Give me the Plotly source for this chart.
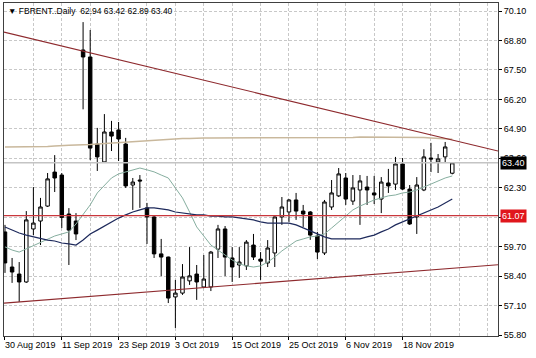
import plotly.graph_objects as go

# ---------------- data ----------------
dates = [
    "2019-08-30",
    "2019-09-02", "2019-09-03", "2019-09-04", "2019-09-05", "2019-09-06",
    "2019-09-09", "2019-09-10", "2019-09-11", "2019-09-12", "2019-09-13",
    "2019-09-16", "2019-09-17", "2019-09-18", "2019-09-19", "2019-09-20",
    "2019-09-23", "2019-09-24", "2019-09-25", "2019-09-26", "2019-09-27",
    "2019-09-30", "2019-10-01", "2019-10-02", "2019-10-03", "2019-10-04",
    "2019-10-07", "2019-10-08", "2019-10-09", "2019-10-10", "2019-10-11",
    "2019-10-14", "2019-10-15", "2019-10-16", "2019-10-17", "2019-10-18",
    "2019-10-21", "2019-10-22", "2019-10-23", "2019-10-24", "2019-10-25",
    "2019-10-28", "2019-10-29", "2019-10-30", "2019-10-31", "2019-11-01",
    "2019-11-04", "2019-11-05", "2019-11-06", "2019-11-07", "2019-11-08",
    "2019-11-11", "2019-11-12", "2019-11-13", "2019-11-14", "2019-11-15",
    "2019-11-18", "2019-11-19", "2019-11-20", "2019-11-21", "2019-11-22",
    "2019-11-25", "2019-11-26", "2019-11-27",
]

opens = [60.35, 58.80, 58.49, 58.14, 60.48, 60.83, 61.49, 62.99, 62.86, 61.14,
         60.83, 68.38, 68.07, 64.23, 63.44, 64.76, 64.85, 64.23, 62.42, 62.64,
         61.41, 61.01, 59.38, 59.24, 57.48, 57.65, 58.19, 58.49, 57.92, 57.92,
         59.59, 60.48, 59.20, 58.89, 58.85, 59.77, 59.15, 58.98, 59.42, 61.01,
         61.23, 61.76, 61.27, 61.23, 60.17, 59.42, 61.45, 61.94, 62.73, 61.71,
         62.20, 62.33, 62.07, 61.80, 62.51, 62.46, 63.35, 62.24, 61.01, 62.20,
         63.61, 63.44, 63.66, 62.94]
highs = [60.66, 59.20, 59.02, 61.27, 62.33, 61.85, 62.95, 63.74, 62.95, 61.40,
         61.18, 69.61, 69.26, 64.94, 65.55, 65.25, 65.20, 64.50, 62.73, 62.86,
         61.63, 61.05, 60.04, 59.26, 58.23, 58.93, 59.68, 58.89, 59.33, 59.51,
         60.66, 60.61, 59.68, 59.68, 59.99, 60.26, 59.46, 59.99, 61.03, 61.89,
         61.80, 62.07, 61.54, 61.27, 60.35, 61.76, 62.64, 63.17, 62.95, 62.86,
         62.86, 62.82, 62.82, 62.77, 63.13, 63.66, 63.61, 62.42, 62.77, 64.00,
         64.28, 63.79, 64.32, 63.42]
lows = [58.54, 58.10, 57.26, 58.10, 60.21, 59.77, 61.45, 62.11, 60.52, 58.89,
        59.99, 65.76, 63.52, 63.04, 63.44, 63.92, 63.48, 62.29, 61.32, 61.41,
        59.82, 59.20, 58.40, 57.21, 56.11, 57.57, 58.01, 57.35, 57.87, 57.74,
        59.20, 58.40, 58.14, 58.32, 58.67, 59.11, 58.23, 58.80, 58.80, 60.66,
        60.79, 60.88, 60.57, 60.00, 59.15, 59.33, 61.32, 61.89, 61.54, 61.54,
        60.66, 61.54, 61.58, 61.18, 62.07, 62.20, 62.20, 60.66, 60.26, 62.15,
        62.99, 62.95, 63.39, 62.89]
closes = [58.98, 58.58, 58.14, 60.88, 60.74, 61.45, 62.69, 62.73, 60.99, 60.43,
          60.26, 68.07, 64.05, 63.66, 64.76, 64.58, 64.45, 62.38, 62.55, 62.60,
          61.01, 59.38, 59.24, 57.43, 57.65, 58.36, 58.41, 58.14, 58.27, 59.46,
          60.48, 59.24, 58.80, 59.02, 59.90, 59.24, 59.06, 59.64, 61.01, 61.45,
          61.76, 61.27, 61.14, 60.21, 59.46, 61.67, 62.07, 62.91, 61.80, 62.29,
          62.60, 62.20, 61.98, 62.55, 62.38, 63.35, 62.24, 60.70, 62.42, 63.66,
          63.57, 63.57, 64.10, 63.40]

# fast moving average (grey-green line)
ma_fast = [59.69, 59.55, 59.46, 59.60, 59.77, 59.91, 60.04, 60.17, 60.26, 60.35,
           60.70, 61.10, 61.54, 62.07, 62.42, 62.73, 62.91, 63.00, 63.09, 63.17,
           63.09, 63.00, 62.86, 62.73, 62.29, 61.85, 61.23, 60.57, 60.17, 59.77,
           59.55, 59.33, 59.11, 58.94, 58.85, 58.80, 58.85, 59.02, 59.24, 59.51,
           59.73, 59.95, 60.04, 60.13, 60.17, 60.26, 60.52, 60.79, 61.05, 61.32,
           61.49, 61.63, 61.76, 61.85, 61.94, 61.98, 62.07, 62.11, 62.20, 62.33,
           62.46, 62.60, 62.73, 62.82]
# slower moving average (navy line)
ma_slow = [60.57, 60.43, 60.30, 60.21, 60.13, 60.08, 59.99, 59.95, 59.86, 59.82,
           59.77, 59.99, 60.26, 60.43, 60.61, 60.79, 60.96, 61.10, 61.23, 61.32,
           61.41, 61.41, 61.36, 61.32, 61.23, 61.19, 61.14, 61.10, 61.10, 61.05,
           61.05, 61.01, 61.01, 60.96, 60.92, 60.88, 60.79, 60.74, 60.74, 60.74,
           60.74, 60.66, 60.52, 60.39, 60.26, 60.13, 60.04, 60.04, 60.04, 60.04,
           60.04, 60.13, 60.21, 60.35, 60.48, 60.66, 60.79, 60.92, 61.05, 61.19,
           61.32, 61.45, 61.63, 61.80]
# long moving average (tan line)
ma_long = [64.10, 64.10, 64.10, 64.10, 64.10, 64.12, 64.12, 64.14, 64.14, 64.17,
           64.19, 64.19, 64.21, 64.23, 64.25, 64.28, 64.30, 64.32, 64.34, 64.36,
           64.39, 64.41, 64.43, 64.45, 64.45, 64.47, 64.47, 64.50, 64.50, 64.50,
           64.50, 64.50, 64.50, 64.50, 64.50, 64.50, 64.50, 64.50, 64.50, 64.50,
           64.50, 64.50, 64.50, 64.50, 64.50, 64.52, 64.52, 64.52, 64.52, 64.52,
           64.54, 64.54, 64.54, 64.54, 64.54, 64.54, 64.54, 64.54, 64.54, 64.52,
           64.50, 64.48, 64.46, 64.44]

view_x = [-0.14, 69.44]            # visible bar-index span (chart shift on right)
view_y = [55.756, 70.453]
upper_trend = [69.17, 63.92]       # resistance line at the two view edges
lower_trend = [57.21, 58.90]       # support line at the two view edges
level_line = 61.07
last_price = 63.40
header = "FBRENT..Daily  62.94 63.42 62.89 63.40"

ytick_vals = [55.80, 57.10, 58.40, 59.70, 61.00, 62.30, 63.60, 64.90, 66.20, 67.50, 68.80, 70.10]
ytick_text = ["55.80", "57.10", "58.40", "59.70", "", "62.30", "63.60",
              "64.90", "66.20", "67.50", "68.80", "70.10"]   # 61.00 sits under the 61.07 tag
date_label_idx = [0, 8, 16, 24, 32, 40, 48, 56]
date_labels = ["30 Aug 2019", "11 Sep 2019", "23 Sep 2019", "3 Oct 2019",
               "15 Oct 2019", "25 Oct 2019", "6 Nov 2019", "18 Nov 2019"]

# ---------------- figure ----------------
FONT = "Liberation Sans"
idx = list(range(len(dates)))

fig = go.Figure()

fig.add_trace(go.Candlestick(
    x=idx, open=opens, high=highs, low=lows, close=closes,
    increasing=dict(line=dict(color="black", width=1), fillcolor="white"),
    decreasing=dict(line=dict(color="black", width=1), fillcolor="black"),
    whiskerwidth=0, hoverinfo="skip", showlegend=False,
))

fig.add_trace(go.Scatter(x=view_x, y=[last_price, last_price], mode="lines",
                         line=dict(color="#C4C4C4", width=1.5), hoverinfo="skip", showlegend=False))
fig.add_trace(go.Scatter(x=idx, y=ma_long, mode="lines",
                         line=dict(color="#C9B89C", width=1.5), hoverinfo="skip", showlegend=False))
fig.add_trace(go.Scatter(x=idx, y=ma_fast, mode="lines",
                         line=dict(color="#86AE9F", width=1), hoverinfo="skip", showlegend=False))
fig.add_trace(go.Scatter(x=idx, y=ma_slow, mode="lines",
                         line=dict(color="#1E2A5C", width=1.2), hoverinfo="skip", showlegend=False))
fig.add_trace(go.Scatter(x=view_x, y=[level_line, level_line], mode="lines",
                         line=dict(color="#C9373C", width=1.4), hoverinfo="skip", showlegend=False))
fig.add_trace(go.Scatter(x=view_x, y=upper_trend, mode="lines",
                         line=dict(color="#8E2A2E", width=1.2), hoverinfo="skip", showlegend=False))
fig.add_trace(go.Scatter(x=view_x, y=lower_trend, mode="lines",
                         line=dict(color="#8E2A2E", width=1.2), hoverinfo="skip", showlegend=False))

annotations = []
for i, lab in zip(date_label_idx, date_labels):
    annotations.append(dict(x=i, xref="x", y=0, yref="paper", yanchor="middle", xanchor="left",
                            xshift=-2, yshift=-9, text=lab, showarrow=False,
                            font=dict(family=FONT, size=9, color="black")))
annotations.append(dict(x=1, xref="paper", y=last_price, yref="y", xanchor="left", xshift=2,
                        text="%.2f" % last_price, showarrow=False, bgcolor="black",
                        borderpad=1, font=dict(family=FONT, size=9, color="white")))
annotations.append(dict(x=1, xref="paper", y=level_line, yref="y", xanchor="left", xshift=2,
                        text="%.2f" % level_line, showarrow=False, bgcolor="#E0161C",
                        borderpad=1, font=dict(family=FONT, size=9, color="white")))
annotations.append(dict(x=0, xref="paper", y=1, yref="paper", xanchor="left", yanchor="top",
                        xshift=2, yshift=-1, text="\u25BC " + header, showarrow=False,
                        font=dict(family=FONT, size=8.5, color="black")))

grid = dict(gridcolor="#C8C8C8", gridwidth=1, griddash="3px,2px")

fig.update_layout(
    width=536, height=358,
    margin=dict(l=4, r=38, t=3, b=22, pad=0),
    paper_bgcolor="white", plot_bgcolor="white",
    showlegend=False,
    font=dict(family=FONT, size=9, color="black"),
    annotations=annotations,
    xaxis=dict(range=view_x, tickmode="array", tickvals=date_label_idx,
               showticklabels=False, ticks="outside", ticklen=3, tickcolor="black",
               showgrid=True, **grid,
               minor=dict(tickmode="linear", tick0=0, dtick=4, showgrid=True,
                          gridcolor="#C8C8C8", gridwidth=1, griddash="3px,2px", ticks=""),
               showline=True, linecolor="#404040", linewidth=1, mirror=True,
               zeroline=False, rangeslider=dict(visible=False), fixedrange=True),
    yaxis=dict(range=view_y, side="right", tickmode="array", tickvals=ytick_vals,
               ticktext=ytick_text,
               ticks="outside", ticklen=3, tickcolor="black",
               showgrid=True, **grid,
               showline=True, linecolor="#404040", linewidth=1, mirror=True,
               zeroline=False, fixedrange=True,
               tickfont=dict(family=FONT, size=9, color="black")),
)

fig.write_html(
    "out.html",
    config={"displayModeBar": False, "staticPlot": True},
    post_script="document.body.style.margin='0';document.body.style.padding='0';"
                "document.body.style.overflow='hidden';",
)
